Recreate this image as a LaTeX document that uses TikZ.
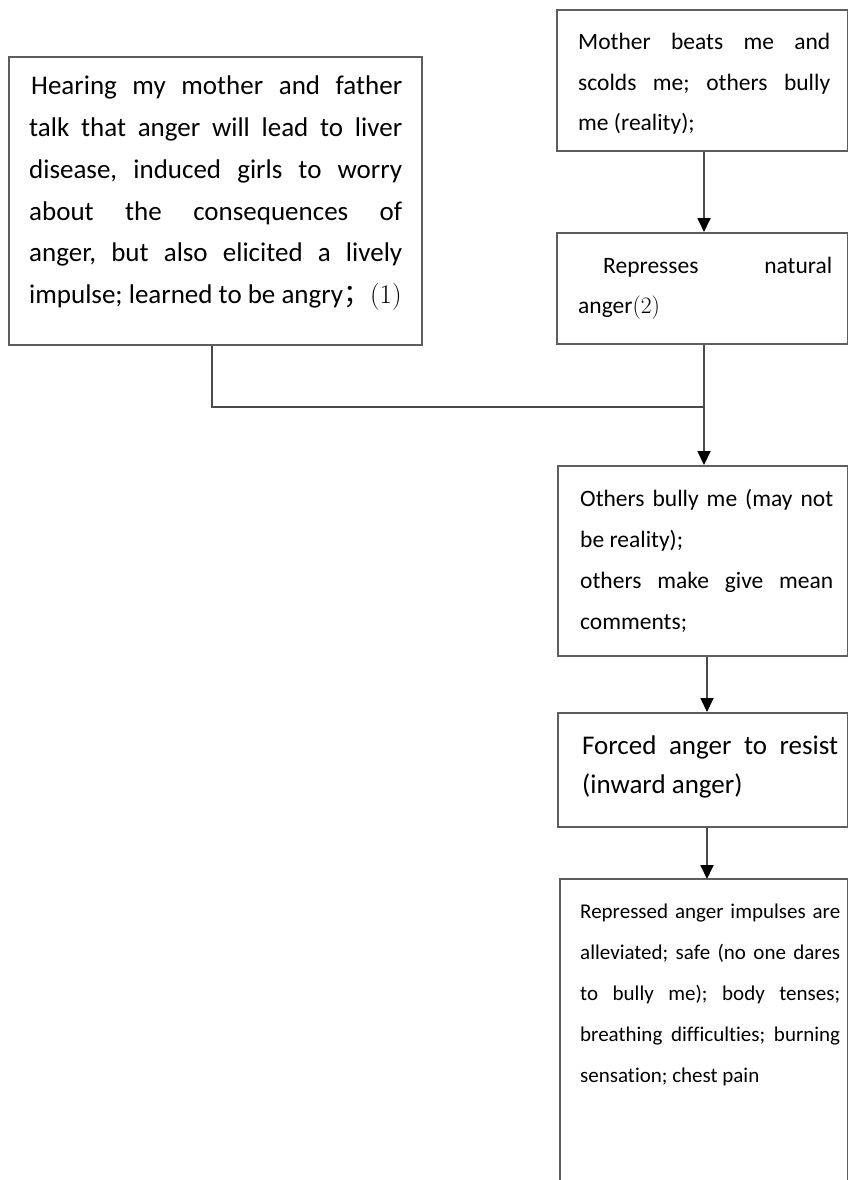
\documentclass[tikz,border=0pt]{standalone}
\usepackage{fontspec}
\setmainfont{Carlito}[Ligatures=NoCommon]
\newfontfamily\cjk{Noto Sans CJK SC}
\newfontfamily\numfont{Latin Modern Roman}
\usetikzlibrary{arrows.meta}
\definecolor{framegray}{HTML}{5E5E5E}
\definecolor{linkgray}{HTML}{4A4A4A}
\frenchspacing

\begin{document}
\begin{tikzpicture}[x=1pt,y=-1pt,
  frame/.style={draw=framegray, line width=1.6pt, inner sep=0pt, anchor=north west},
  openframe/.style={inner sep=0pt, anchor=north west},
  txt/.style={inner sep=0pt, anchor=base west, align=justify},
  link/.style={draw=linkgray, line width=1.8pt},
  arr/.style={link, -{Triangle[length=14pt,width=13pt,color=black]}}]

\useasboundingbox (0,0) rectangle (848,1180);

% frames
\node[frame, minimum width=413pt, minimum height=288pt] (b1) at (8,56) {};
\node[frame, minimum width=291pt, minimum height=141pt] (b2) at (556,9) {};
\node[frame, minimum width=291pt, minimum height=111pt] (b3) at (556,232) {};
\node[frame, minimum width=290pt, minimum height=190pt] (b4) at (557,465) {};
\node[frame, minimum width=290pt, minimum height=114pt] (b5) at (557,712) {};
\node[openframe, minimum width=287pt, minimum height=301pt] (b6) at (560,879) {};
\draw[draw=framegray, line width=1.6pt] (b6.south west) -- (b6.north west) -- (b6.north east) -- (b6.south east);

% texts
\node[txt, text width=373pt, font=\fontsize{27}{41.7}\selectfont] (t1) at (29,95)
  {\hspace*{2pt}Hearing my mother and father\linebreak
   talk that anger will lead to liver\linebreak
   disease, induced girls to worry\linebreak
   about the consequences of\linebreak
   anger, but also elicited a lively\linebreak
   impulse; learned to be angry{\cjk ；}{\numfont(1)}};

\node[txt, text width=252pt, font=\fontsize{23.5}{40.5}\selectfont] (t2) at (578,50)
  {Mother beats me and\linebreak
   scolds me; others bully\linebreak
   me (reality);};

\node[txt, text width=254pt, font=\fontsize{23.5}{40.5}\selectfont] (t3) at (578,273)
  {\hspace*{25pt}Represses natural\linebreak
   anger{\numfont(2)}};

\node[txt, text width=253pt, font=\fontsize{23.5}{41.3}\selectfont] (t4) at (580,506)
  {Others bully me (may not\linebreak
   be reality);\\
   others make give mean\linebreak
   comments;};

\node[txt, text width=256pt, font=\fontsize{27}{39.5}\selectfont] (t5) at (582,754)
  {Forced anger to resist\linebreak
   (inward anger)};

\node[txt, text width=260pt, font=\fontsize{21}{41}\selectfont] (t6) at (580,918)
  {Repressed anger impulses are\linebreak
   alleviated; safe (no one dares\linebreak
   to bully me); body tenses;\linebreak
   breathing difficulties; burning\linebreak
   sensation; chest pain};

% connectors
\coordinate (ax) at (704,0);
\coordinate (bx) at (707,0);
\coordinate (lx) at (212,0);
\coordinate (j) at (704,407);

\draw[arr] (b2.south -| ax) -- (b3.north -| ax);
\draw[link] (b3.south -| ax) -- (j);
\draw[link] (b1.south -| lx) |- (j);
\draw[arr] (j) -- (b4.north -| ax);
\draw[arr] (b4.south -| bx) -- (b5.north -| bx);
\draw[arr] (b5.south -| bx) -- (b6.north -| bx);
\end{tikzpicture}
\end{document}
